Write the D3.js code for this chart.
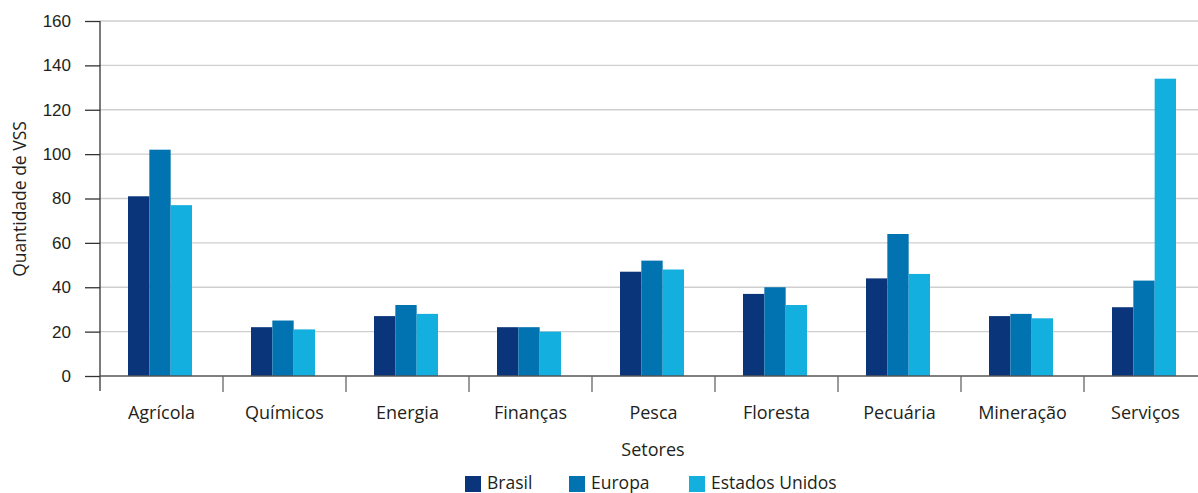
<!DOCTYPE html>
<html>
<head>
<meta charset="utf-8">
<script src="https://cdn.jsdelivr.net/npm/d3@7/dist/d3.min.js"></script>
<style>
  html, body { margin: 0; padding: 0; background: #fff; }
  svg { display: block; font-family: "Open Sans", "Noto Sans", sans-serif; }
</style>
</head>
<body>
<svg id="chart" width="1198" height="493"></svg>
<script>
// Number of VSS by sector and region
const categories = ["Agrícola", "Químicos", "Energia", "Finanças", "Pesca", "Floresta", "Pecuária", "Mineração", "Serviços"];
const seriesNames = ["Brasil", "Europa", "Estados Unidos"];
const brasil = [81, 22, 27, 22, 47, 37, 44, 27, 31];
const europa = [102, 25, 32, 22, 52, 40, 64, 28, 43];
const estadosUnidos = [77, 21, 28, 20, 48, 32, 46, 26, 134];
const yTicks = [0, 20, 40, 60, 80, 100, 120, 140, 160];
const colors = ["#0a357b", "#0273b1", "#13afdf"];

const seriesValues = [brasil, europa, estadosUnidos];

const svg = d3.select("#chart");
const plotLeft = 100, plotTop = 21, plotBottom = 376;
const step = 123;

const x = d3.scaleBand()
  .domain(categories)
  .range([plotLeft, plotLeft + step * categories.length])
  .paddingInner(0).paddingOuter(0);

const y = d3.scaleLinear().domain([0, 160]).range([plotBottom, plotTop]);

const groupOffset = 28, groupWidth = 64;
const xs = d3.scaleBand().domain(seriesNames).range([0, groupWidth]).padding(0);

// Gridlines
svg.append("g")
  .selectAll("line")
  .data(yTicks.filter(d => d > 0))
  .join("line")
  .attr("x1", plotLeft).attr("x2", 1198)
  .attr("y1", d => y(d)).attr("y2", d => y(d))
  .attr("stroke", "#cfcfcf").attr("stroke-width", 1.3);

// Bars
const groups = svg.append("g")
  .selectAll("g")
  .data(categories)
  .join("g")
  .attr("transform", c => `translate(${x(c) + groupOffset},0)`);

groups.selectAll("rect")
  .data((c, i) => seriesNames.map((s, j) => ({ s, j, v: seriesValues[j][i] })))
  .join("rect")
  .attr("x", d => xs(d.s))
  .attr("width", xs.bandwidth())
  .attr("y", d => y(d.v))
  .attr("height", d => plotBottom - y(d.v))
  .attr("fill", d => colors[d.j]);

// Y axis
const yAxis = svg.append("g")
  .attr("transform", `translate(${plotLeft},0)`)
  .call(d3.axisLeft(y).tickValues(yTicks).tickSize(15).tickPadding(14));
yAxis.select(".domain").remove();
yAxis.selectAll(".tick line").attr("stroke", "#333").attr("stroke-width", 1.3);
yAxis.selectAll(".tick text").attr("fill", "#231f20").style("font-size", "17px");
svg.append("line")
  .attr("x1", plotLeft).attr("x2", plotLeft)
  .attr("y1", plotTop).attr("y2", plotBottom + 15)
  .attr("stroke", "#333").attr("stroke-width", 1.3);

// X axis baseline and category boundary ticks
svg.append("line")
  .attr("x1", plotLeft).attr("x2", 1198)
  .attr("y1", plotBottom).attr("y2", plotBottom)
  .attr("stroke", "#555").attr("stroke-width", 1.3);
svg.append("g")
  .selectAll("line")
  .data(categories.slice(1))
  .join("line")
  .attr("x1", c => x(c)).attr("x2", c => x(c))
  .attr("y1", plotBottom).attr("y2", plotBottom + 16)
  .attr("stroke", "#666").attr("stroke-width", 1.3);

svg.append("g")
  .selectAll("text")
  .data(categories)
  .join("text")
  .attr("x", c => x(c) + x.bandwidth() / 2)
  .attr("y", 419)
  .attr("text-anchor", "middle")
  .attr("fill", "#231f20")
  .style("font-size", "18px")
  .text(c => c);

// Axis titles
svg.append("text")
  .attr("transform", "translate(26,199) rotate(-90)")
  .attr("text-anchor", "middle")
  .attr("fill", "#231f20")
  .style("font-size", "17.5px")
  .text("Quantidade de VSS");

svg.append("text")
  .attr("x", 653).attr("y", 456)
  .attr("text-anchor", "middle")
  .attr("fill", "#231f20")
  .style("font-size", "18px")
  .text("Setores");

// Legend
const legendX = [465, 569, 689];
const legend = svg.append("g")
  .selectAll("g")
  .data(seriesNames)
  .join("g")
  .attr("transform", (d, i) => `translate(${legendX[i]},476)`);
legend.append("rect")
  .attr("width", 16).attr("height", 16)
  .attr("fill", (d, i) => colors[i]);
legend.append("text")
  .attr("x", 22).attr("y", 13)
  .attr("fill", "#231f20")
  .style("font-size", "17.5px")
  .text(d => d);
</script>
</body>
</html>
